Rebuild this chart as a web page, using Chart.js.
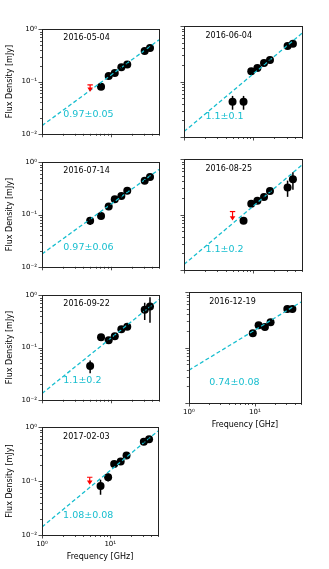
<!DOCTYPE html>
<html><head><meta charset="utf-8">
<script src="https://cdn.jsdelivr.net/npm/chart.js@4/dist/chart.umd.min.js"></script>
<style>
html,body{margin:0;padding:0;background:#fff;}
body{width:329px;height:569px;position:relative;overflow:hidden;}
.p{position:absolute;}
</style></head><body>
<script>
// ---------- data ----------
const freqs = [5.0, 7.2, 9.3, 11.4, 14.2, 17.3, 31, 37];           // GHz
const dates = ['2016-05-04','2016-06-04','2016-07-14','2016-08-25','2016-09-22','2016-12-19','2017-02-03'];
const slopeLabels = ['0.97±0.05','1.1±0.1','0.97±0.06','1.1±0.2','1.1±0.2','0.74±0.08','1.08±0.08'];

const flux0504 = [null, 0.079, 0.127, 0.146, 0.188, 0.212, 0.385, 0.436];
const err0504  = [null, 0.009, 0.006, 0.006, 0.008, 0.008, 0.015, 0.015];
const flux0604 = [0.043, 0.043, 0.153, 0.175, 0.215, 0.244, 0.436, 0.480];
const err0604  = [0.012, 0.012, 0.006, 0.006, 0.008, 0.008, 0.015, 0.015];
const flux0714 = [0.0757, 0.094, 0.143, 0.195, 0.227, 0.283, 0.440, 0.520];
const err0714  = [0.013, 0.008, 0.006, 0.006, 0.008, 0.008, 0.015, 0.015];
const flux0825 = [null, 0.077, 0.156, 0.176, 0.206, 0.264, 0.308, 0.430];
const err0825  = [null, 0.006, 0.006, 0.006, 0.008, 0.010, 0.100, 0.150];
const flux0922 = [0.0443, 0.157, 0.138, 0.164, 0.223, 0.248, 0.526, 0.607];
const err0922  = [0.012, 0.006, 0.006, 0.006, 0.008, 0.010, 0.190, 0.310];
const flux1219 = [null, null, 0.181, 0.252, 0.235, 0.286, 0.492, 0.492];
const err1219  = [null, null, 0.006, 0.006, 0.008, 0.008, 0.015, 0.015];
const flux0203 = [null, 0.081, 0.118, 0.208, 0.230, 0.300, 0.536, 0.597];
const err0203  = [null, 0.025, 0.020, 0.008, 0.008, 0.010, 0.020, 0.020];

// power-law fit lines, read at the ends of the frequency axis
const fitFreqs = [1, 50];
const fitLow  = [0.0143, 0.0125, 0.0176, 0.0126, 0.0132, 0.039, 0.0141];
const fitHigh = [0.625, 0.74, 0.726, 0.78, 0.83, 0.66, 0.85];

// 5 GHz upper limits (red)
const ulFreq = 5.0;
const ulTop = [0.086, null, null, 0.113, null, null, 0.118];
const ulTip = [0.064, null, null, 0.078, null, null, 0.086];

const xTickValues = [1, 10];        const xTickLabels = ['10⁰', '10¹'];
const yTickValues = [0.01, 0.1, 1]; const yTickLabels = ['10⁻²', '10⁻¹', '10⁰'];

const fluxes = [flux0504, flux0604, flux0714, flux0825, flux0922, flux1219, flux0203];
const errs   = [err0504, err0604, err0714, err0825, err0922, err1219, err0203];

// ---------- layout ----------
const CYAN = '#17becf';
const colLeft = [42, 184], colW = [118, 119];
const rowTop = [26, 159, 292, 424], plotH = 111;
const panels = [
  {col:0,row:0,xlab:false},{col:1,row:0,xlab:false},
  {col:0,row:1,xlab:false},{col:1,row:1,xlab:false},
  {col:0,row:2,xlab:false},{col:1,row:2,xlab:true},
  {col:0,row:3,xlab:true}
];

Chart.defaults.font.family = "'DejaVu Sans', sans-serif";
Chart.defaults.color = '#000';
Chart.defaults.animation = false;

function niceLog(v){ const e = Math.floor(Math.log10(v)+1e-9); const s = v/Math.pow(10,e); return Math.abs(s-Math.round(s))<1e-6; }
function isMajor(v){ const l = Math.log10(v); return Math.abs(l-Math.round(l))<1e-6; }
function labelFor(vals, labels, v){ const i = vals.findIndex(t=>Math.abs(t-v)/t<1e-6); return i<0?'':labels[i]; }

const deco = {
  id:'deco',
  afterDatasetsDraw(chart, args, o){
    const {ctx, chartArea:a, scales:{x,y}} = chart;
    ctx.save();
    ctx.beginPath(); ctx.rect(a.left,a.top,a.right-a.left,a.bottom-a.top); ctx.clip();
    ctx.strokeStyle = '#000'; ctx.lineWidth = 1.5;
    o.flux.forEach((f,i)=>{
      if (f==null || !o.err[i]) return;
      const px = x.getPixelForValue(freqs[i]);
      ctx.beginPath();
      ctx.moveTo(px, y.getPixelForValue(f+o.err[i]));
      ctx.lineTo(px, y.getPixelForValue(Math.max(f-o.err[i], 1e-4)));
      ctx.stroke();
    });
    if (o.ulTop != null){
      const px = x.getPixelForValue(ulFreq);
      const t = y.getPixelForValue(o.ulTop), b = y.getPixelForValue(o.ulTip);
      ctx.strokeStyle = '#ff0000'; ctx.fillStyle = '#ff0000'; ctx.lineWidth = 1.2;
      ctx.beginPath(); ctx.moveTo(px-2.7, t); ctx.lineTo(px+2.7, t); ctx.stroke();
      ctx.beginPath(); ctx.moveTo(px, t); ctx.lineTo(px, b-3); ctx.stroke();
      ctx.beginPath(); ctx.moveTo(px-2.8, b-4.2); ctx.lineTo(px+2.8, b-4.2); ctx.lineTo(px, b); ctx.closePath(); ctx.fill();
    }
    ctx.restore();
  },
  afterDraw(chart, args, o){
    const {ctx, chartArea:a, scales:{x,y}} = chart;
    ctx.save();
    ctx.strokeStyle = '#222'; ctx.lineWidth = 0.8;
    x.ticks.forEach(t=>{
      const v = t.value; if (v < x.min-1e-9 || v > x.max+1e-9) return;
      const px = Math.round(x.getPixelForValue(v))+0.5, len = isMajor(v)?3.5:2;
      ctx.beginPath(); ctx.moveTo(px, a.bottom); ctx.lineTo(px, a.bottom+len); ctx.stroke();
    });
    y.ticks.forEach(t=>{
      const v = t.value; if (v < y.min-1e-9 || v > y.max+1e-9) return;
      const py = Math.round(y.getPixelForValue(v))+0.5, len = isMajor(v)?3.5:2;
      ctx.beginPath(); ctx.moveTo(a.left, py); ctx.lineTo(a.left-len, py); ctx.stroke();
    });
    ctx.lineWidth = 1; ctx.strokeStyle = '#222';
    ctx.strokeRect(Math.round(a.left)+0.5, Math.round(a.top)+0.5, Math.round(a.right-a.left), Math.round(a.bottom-a.top));
    const w = a.right-a.left, h = a.bottom-a.top;
    ctx.textBaseline = 'middle'; ctx.textAlign = 'left';
    ctx.font = "8px 'DejaVu Sans'"; ctx.fillStyle = '#000';
    ctx.fillText(o.date, a.left + 0.182*w, a.top + 0.088*h);
    ctx.font = "9.5px 'DejaVu Sans'"; ctx.fillStyle = CYAN;
    ctx.fillText(o.slope, a.left + 0.182*w, a.top + 0.815*h);
    ctx.restore();
  }
};

panels.forEach((p, k)=>{
  const yW = p.col===0 ? 42 : 6;
  const pT = 6, pR = 3, xH = p.xlab ? 32 : 6;
  const W = yW + colW[p.col] + pR, H = pT + plotH + xH;
  const div = document.createElement('div');
  div.className = 'p';
  div.style.left = (colLeft[p.col]-yW)+'px';
  div.style.top = (rowTop[p.row]-pT)+'px';
  div.style.width = W+'px'; div.style.height = H+'px';
  const cv = document.createElement('canvas');
  cv.width = W; cv.height = H; cv.style.width = W+'px'; cv.style.height = H+'px';
  div.appendChild(cv); document.body.appendChild(div);

  const flux = fluxes[k];
  const pts = freqs.map((f,i)=> flux[i]==null ? null : {x:f, y:flux[i]}).filter(Boolean);

  new Chart(cv, {
    type:'scatter',
    data:{ datasets:[
      { data: fitFreqs.map((f,i)=>({x:f, y: i===0 ? fitLow[k] : fitHigh[k]})),
        showLine:true, borderColor:CYAN, borderWidth:1.3, borderDash:[4,2.5],
        pointRadius:0, fill:false },
      { data: pts, pointRadius:4, pointBackgroundColor:'#000', pointBorderWidth:0, showLine:false }
    ]},
    options:{
      responsive:false, animation:false, events:[],
      layout:{ padding:{ top:pT, right:pR, left:0, bottom:0 } },
      plugins:{ legend:{display:false}, tooltip:{enabled:false},
        deco:{ date:dates[k], slope:slopeLabels[k], flux:flux, err:errs[k], ulTop:ulTop[k], ulTip:ulTip[k] } },
      scales:{
        x:{ type:'logarithmic', min:1, max:50, position:'bottom',
            grid:{display:false, drawTicks:false}, border:{display:false},
            afterBuildTicks:(s)=>{ s.ticks = s.ticks.filter(t=>niceLog(t.value)); },
            afterFit:(s)=>{ s.height = xH; },
            ticks:{ display:p.xlab, autoSkip:false, maxRotation:0, padding:5, font:{size:7}, color:'#000',
                    callback:(v)=>labelFor(xTickValues, xTickLabels, v) },
            title:{ display:p.xlab, text:'Frequency [GHz]', font:{size:8}, color:'#000', padding:{top:0,bottom:5} } },
        y:{ type:'logarithmic', min:0.01, max:1, position:'left',
            grid:{display:false, drawTicks:false}, border:{display:false},
            afterBuildTicks:(s)=>{ s.ticks = s.ticks.filter(t=>niceLog(t.value)); },
            afterFit:(s)=>{ s.width = yW; },
            ticks:{ display:p.col===0, autoSkip:false, padding:5, font:{size:7}, color:'#000',
                    callback:(v)=>labelFor(yTickValues, yTickLabels, v) },
            title:{ display:p.col===0, text:'Flux Density [mJy]', font:{size:8}, color:'#000', padding:{top:5,bottom:0} } }
      }
    },
    plugins:[deco]
  });
});
</script>
</body></html>
